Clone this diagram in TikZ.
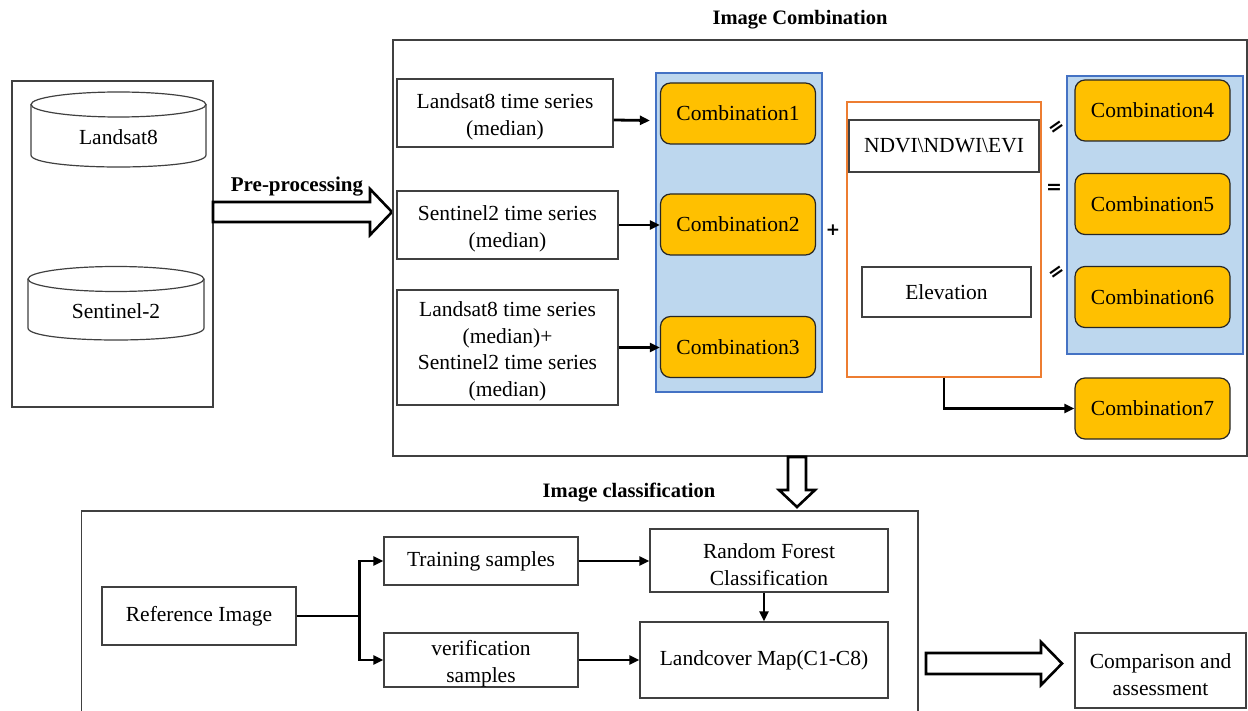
\documentclass[tikz,border=0pt]{standalone}
\usepackage{fontspec}
\setmainfont{Liberation Serif}
\newfontfamily\signfont{DejaVu Sans}
\usetikzlibrary{arrows.meta}

\definecolor{panelblue}{RGB}{189,215,238}
\definecolor{paneledge}{RGB}{68,114,196}
\definecolor{combfill}{RGB}{255,192,0}
\definecolor{featedge}{RGB}{237,125,49}
\definecolor{edgegray}{RGB}{64,64,64}

% taller first line, pushes the text block down a little
\newcommand{\lift}{\rule{0pt}{23pt}}

\begin{document}
\begin{tikzpicture}[x=1pt, y=-1pt,
        box/.style={draw=edgegray, line width=1.2pt, fill=white, inner sep=0pt, align=center,
            font=\fontsize{21.5}{26.5}\selectfont},
        comb/.style={box, draw=black!85, fill=combfill, rounded corners=10pt,
            minimum width=155, minimum height=61},
        panel/.style={draw=paneledge, line width=1.2pt, fill=panelblue},
        flow/.style={line width=2.8pt, -{Triangle[length=10pt,width=9pt]}},
        fat/.style={line width=2.6pt, fill=white, line join=miter},
        title/.style={font=\fontsize{20.5}{24}\selectfont\bfseries},
        eq/.style={font=\signfont\bfseries\fontsize{19}{20}\selectfont, inner sep=0pt}]
        \def\picwidth{1248}
        \def\picheight{711}

        \useasboundingbox (0,0) rectangle (\picwidth,\picheight);
        \clip (0,0) rectangle (\picwidth,\picheight);

        % DATA SOURCES
        \node[box, minimum width=201, minimum height=326] (src) at (112.5,244) {};
        \draw[edgegray, line width=1.2pt, fill=white] (31,104.5) -- (31,155)
            .. controls (31,171) and (206,171) .. (206,155) -- (206,104.5);
        \draw[edgegray, line width=1.2pt] (118.5,104.5) ellipse[x radius=87.5, y radius=12.5];
        \node[box, draw=none, fill=none] (ls) at (118.5,137) {Landsat8};
        \draw[edgegray, line width=1.2pt, fill=white] (28,279) -- (28,328)
            .. controls (28,344) and (204,344) .. (204,328) -- (204,279);
        \draw[edgegray, line width=1.2pt] (116,279) ellipse[x radius=88, y radius=12.5];
        \node[box, draw=none, fill=none] (s2) at (116,311) {Sentinel-2};

        \path[fat, draw=black] (213,202) -- (370,202) -- (370,189) -- (392,212)
            -- (370,235) -- (370,222) -- (213,222) -- cycle;
        \node[title, font=\fontsize{21}{24}\selectfont\bfseries] (pre) at (297,187) {Pre-processing};

        % IMAGE COMBINATION
        \node[box, minimum width=854, minimum height=416] (comb) at (820,248) {};
        \node[title] (combtitle) at (800,20) {Image Combination};

        \node[box, minimum width=216, minimum height=68] (lts) at (505,113) {\lift Landsat8 time series\\(median)};
        \node[box, minimum width=221, minimum height=68] (sts) at (507.5,225) {\lift Sentinel2 time series\\(median)};
        \node[box, minimum width=221, minimum height=115] (both) at (507.5,347.5)
            {\lift Landsat8 time series\\(median)+\\Sentinel2 time series\\(median)};

        \fill[panel] (656,73) rectangle (822,392);
        \foreach \i/\y in {1/113.5, 2/224.5, 3/347} {
            \node[comb] (c\i) at (738,\y) {Combination\i};
        }
        \draw[flow] ([yshift=-7pt]lts.east) -- ([yshift=-7pt, xshift=-10pt]c1.west);
        \draw[flow] (sts.east) -- (sts.east -| c2.west);
        \draw[flow] (both.east) -- (both.east -| c3.west);

        \node[eq, font=\signfont\bfseries\fontsize{17}{20}\selectfont] (plus) at (833,230) {+};

        % INDICES AND ELEVATION
        \node[box, draw=featedge, minimum width=194, minimum height=275] (feat) at (944,239.5) {};
        \node[box, minimum width=190, minimum height=52] (idx) at (944,146) {NDVI\textbackslash NDWI\textbackslash EVI};
        \node[box, minimum width=169, minimum height=50] (elev) at (946.5,292) {Elevation};

        \node[eq, rotate=35] (eqa) at (1057,128) {=};
        \node[eq] (eqb) at (1054,189) {=};
        \node[eq, rotate=35] (eqc) at (1057,273) {=};

        \fill[panel] (1067,76) rectangle (1243,354);
        \foreach \i/\y in {4/110.5, 5/204, 6/297, 7/408.5} {
            \node[comb] (c\i) at (1152.5,\y) {Combination\i};
        }
        \draw[flow] (feat.south) |- (c7.west);

        \path[fat, draw=black] (788,457) -- (788,490) -- (779,490) -- (797,507)
            -- (815,490) -- (806,490) -- (806,457) -- cycle;

        % IMAGE CLASSIFICATION
        \node[title] (clstitle) at (629,493) {Image classification};
        \draw[edgegray, line width=1.2pt] (81.5,720) -- (81.5,511) -- (918,511) -- (918,720);

        \node[box, minimum width=194, minimum height=58] (ref) at (199,616) {Reference Image};
        \node[box, minimum width=194, minimum height=48] (train) at (481,561) {Training samples};
        \node[box, minimum width=194, minimum height=54] (verif) at (481,660) {\lift verification\\samples};
        \node[box, minimum width=238, minimum height=63] (rf) at (769,560.5) {\lift Random Forest\\Classification};
        \node[box, minimum width=248, minimum height=76] (lc) at (764,660) {Landcover Map(C1-C8)};
        \coordinate (split) at (359.5,616);

        \draw[line width=2.8pt] (ref.east) -- (split);
        \draw[flow] (split) |- (train.west);
        \draw[flow] (split) |- (verif.west);
        \draw[flow] (train.east) -- (train.east -| rf.west);
        \draw[flow] (lc.north |- rf.south) -- (lc.north);
        \draw[flow] (verif.east) -- (lc.west);

        \path[fat, draw=black] (926,653) -- (1041,653) -- (1041,642) -- (1062,663.5)
            -- (1041,685) -- (1041,674) -- (926,674) -- cycle;
        \node[box, minimum width=171, minimum height=75] (cmp) at (1160.5,670.5) {\lift Comparison and\\assessment};
\end{tikzpicture}
\end{document}
